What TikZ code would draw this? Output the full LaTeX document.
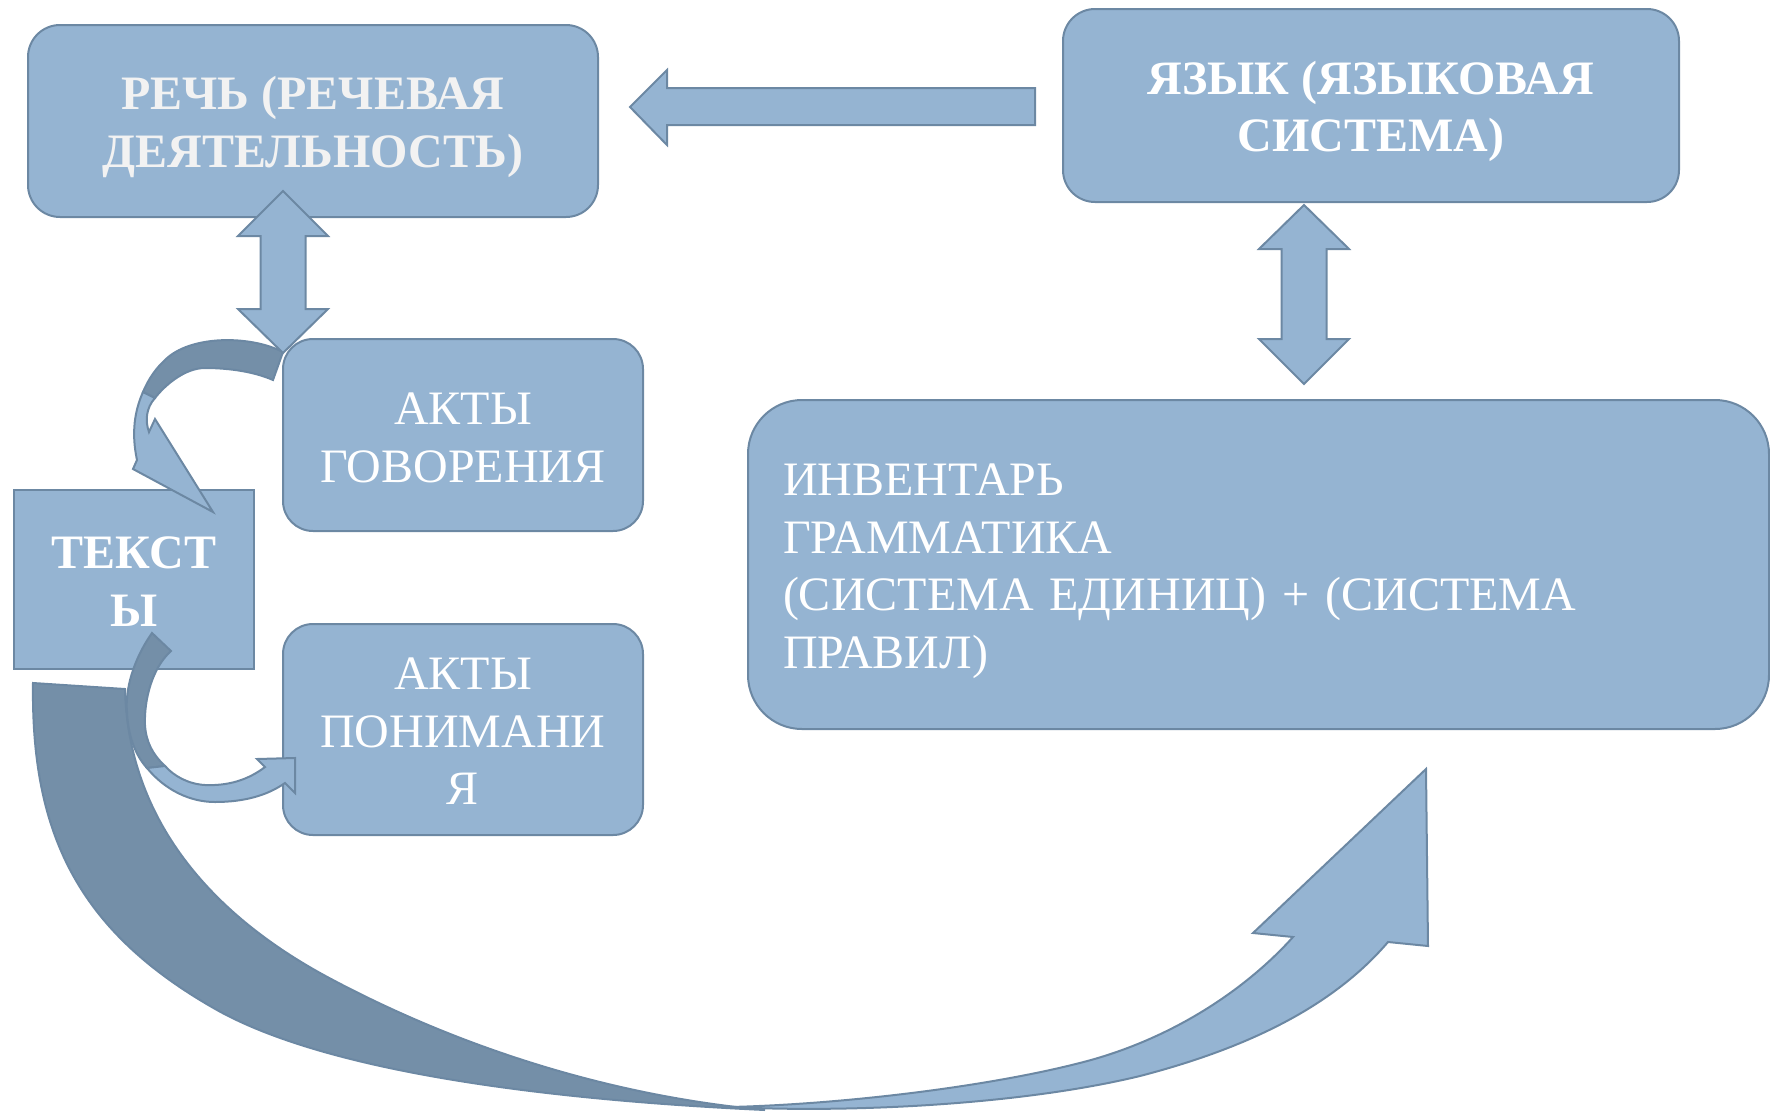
\documentclass[tikz,border=0pt]{standalone}
\usepackage{fontspec}
\setmainfont{Liberation Serif}
\usetikzlibrary{calc}
\definecolor{boxfill}{HTML}{95B4D2}
\definecolor{boxline}{HTML}{6C88A3}
\definecolor{darkfill}{HTML}{748FA8}
\definecolor{paletext}{HTML}{F2F2F2}
\tikzset{
  blockbox/.style={draw=boxline, fill=boxfill, line width=2pt, rounded corners=32pt, inner sep=0pt},
  plaintext/.style={align=center, text=white, inner sep=0pt, font=\fontsize{48}{57.5}\selectfont},
  boldtext/.style={plaintext, font=\fontsize{48}{57.5}\selectfont\bfseries},
  blockarrow/.style={draw=boxline, fill=boxfill, line width=2pt},
  backarrow/.style={draw=boxline, fill=darkfill, line width=2pt},
}

\begin{document}
\begin{tikzpicture}[x=1pt, y=-1pt]
\useasboundingbox (0,0) rectangle (1770,1112);

\node[blockbox, minimum width=570pt, minimum height=192pt] (rech) at (313,121) {};
\node[blockbox, minimum width=616pt, minimum height=193pt] (yazyk) at (1371,105.5) {};
\node[blockbox, rounded corners=0pt, minimum width=240pt, minimum height=179pt] (teksty) at (134,579.5) {};
\node[blockbox, rounded corners=30pt, minimum width=360pt, minimum height=192pt] (govor) at (463,435) {};
\node[blockbox, rounded corners=30pt, minimum width=360pt, minimum height=211pt] (ponim) at (463,729.5) {};
\node[blockbox, rounded corners=54pt, minimum width=1021pt, minimum height=329pt] (invent) at (1258.5,564.5) {};

\node[boldtext, text=paletext] (rech_t) at ($(rech)+(0,6)$) {РЕЧЬ (РЕЧЕВАЯ\\ДЕЯТЕЛЬНОСТЬ)};
\node[boldtext] (yazyk_t) at ($(yazyk)+(0,6)$) {ЯЗЫК (ЯЗЫКОВАЯ\\СИСТЕМА)};
\node[boldtext] (teksty_t) at ($(teksty)+(0,2)$) {ТЕКСТ\\Ы};
\node[plaintext] (govor_t) at ($(govor)+(0,3)$) {АКТЫ\\ГОВОРЕНИЯ};
\node[plaintext] (ponim_t) at ($(ponim)+(0,2)$) {АКТЫ\\ПОНИМАНИ\\Я};
\node[plaintext, text width=951pt, align=left] (invent_t) at ($(invent)+(0,7)$) {ИНВЕНТАРЬ\\ГРАММАТИКА\\(СИСТЕМА ЕДИНИЦ) + (СИСТЕМА\\ПРАВИЛ)};

% big curved arrow: texts -> inventory
\draw[blockarrow] (730,1107) .. controls (850,1104) and (1000,1085) .. (1091,1060) .. controls (1180,1035) and (1250,985) .. (1293,937) -- (1253,933) -- (1426,769) -- (1428,946) -- (1388,942) .. controls (1330,1010) and (1240,1050) .. (1140,1076) .. controls (1020,1105) and (850,1113) .. (730,1107) -- cycle;
\draw[backarrow] (33,683) .. controls (31,830) and (75,930) .. (217,1010) .. controls (330,1073) and (550,1100) .. (765,1110) .. controls (600,1095) and (450,1042) .. (333,980) .. controls (200,910) and (128,810) .. (125,689) -- cycle;

% small curved arrow: texts -> understanding
\draw[backarrow] (152,633) .. controls (133,660) and (125,690) .. (127,712) .. controls (128,735) and (135,755) .. (147,768) -- (165,766) .. controls (153,755) and (146,742) .. (145,725) .. controls (144,700) and (152,668) .. (171,651) -- cycle;
\draw[blockarrow] (147,768) .. controls (165,790) and (190,802) .. (215,802) .. controls (245,802) and (268,795) .. (285,783) -- (295,793) -- (295,758) -- (257,759) -- (265,767) .. controls (248,780) and (228,786) .. (205,785) .. controls (188,784) and (174,776) .. (165,766) -- cycle;

% small curved arrow: speaking -> texts
\draw[backarrow] (283,352) .. controls (250,335) and (190,335) .. (165,360) .. controls (152,372) and (146,385) .. (143,392) -- (155,398) .. controls (165,385) and (185,368) .. (205,368) .. controls (230,368) and (255,372) .. (273,380) -- cycle;
\draw[blockarrow] (143,392) .. controls (135,410) and (131,432) .. (137,460) -- (133,469) -- (213,512) -- (155,419) -- (149,432) .. controls (145,421) and (146,408) .. (155,398) -- cycle;

% double arrows
\coordinate (rech_d) at ($(rech.south)+(-30,-27)$);
\draw[blockarrow] (rech_d) -- ++(45,45) -- ++(-22.5,0) -- ++(0,73) -- ++(22.5,0) -- ++(-45,44) -- ++(-45,-44) -- ++(22.5,0) -- ++(0,-73) -- ++(-22.5,0) -- cycle;
\coordinate (yazyk_d) at (1304,205);
\draw[blockarrow] (yazyk_d) -- ++(45,44) -- ++(-22.5,0) -- ++(0,90) -- ++(22.5,0) -- ++(-45,45) -- ++(-45,-45) -- ++(22.5,0) -- ++(0,-90) -- ++(-22.5,0) -- cycle;

% language -> speech
\coordinate (rech_e) at ($(rech.east)+(31,-14)$);
\draw[blockarrow] (rech_e) -- ++(37,-37) -- ++(0,18) -- ++(368,0) -- ++(0,37) -- ++(-368,0) -- ++(0,20) -- cycle;

\end{tikzpicture}
\end{document}
